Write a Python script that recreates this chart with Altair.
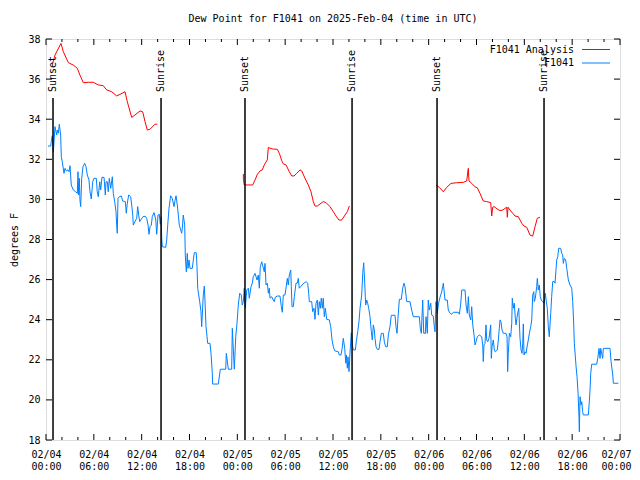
import altair as alt
import pandas as pd

BASE = pd.Timestamp("2025-02-04T00:00:00Z")

# Observations (F1041): hours after 2025-02-04 00:00 UTC, dew point in F
obs_hours = [0.25, 0.59, 0.66, 0.79, 0.92, 1.13, 1.34, 1.42, 1.54, 1.67, 1.84, 1.92, 2.04, 2.26, 2.38, 2.55, 2.76, 2.89, 3.01, 3.17,
             3.42, 3.73, 3.93, 4.01, 4.10, 4.18, 4.26, 4.35, 4.48, 4.64, 4.85, 5.02, 5.18, 5.39, 5.52, 5.68, 5.86, 6.02, 6.31, 6.43,
             6.56, 6.74, 6.86, 7.02, 7.28, 7.44, 7.53, 7.69, 7.81, 7.94, 8.12, 8.32, 8.44, 8.62, 8.78, 8.87, 8.94, 9.03, 9.19, 9.45,
             9.62, 9.95, 10.07, 10.20, 10.37, 10.62, 10.75, 10.88, 10.95, 11.16, 11.38, 11.50, 11.63, 11.75, 11.95, 12.17, 12.46, 12.63, 12.80, 12.92,
             13.05, 13.21, 13.33, 13.55, 13.76, 13.89, 14.05, 14.21, 14.34, 14.46, 14.51, 14.59, 15.02, 15.14, 15.30, 15.43, 15.64, 15.84, 16.06, 16.18,
             16.31, 16.47, 16.60, 16.72, 17.02, 17.10, 17.22, 17.40, 17.47, 17.60, 17.72, 17.81, 17.94, 18.06, 18.35, 18.60, 18.85, 18.94, 19.03, 19.28,
             19.44, 19.53, 19.73, 19.86, 19.94, 20.07, 20.20, 20.28, 20.57, 20.70, 20.86, 20.90, 21.61, 21.87, 22.54, 22.62, 22.87, 23.29, 23.37, 23.50,
             23.62, 23.80, 23.96, 24.12, 24.30, 24.50, 24.62, 24.75, 24.87, 25.00, 25.18, 25.38, 25.50, 25.72, 25.88, 26.00, 26.22, 26.47, 26.63, 26.76,
             26.88, 27.06, 27.38, 27.47, 27.60, 27.76, 27.89, 28.01, 28.10, 28.31, 28.51, 28.64, 28.76, 29.01, 29.35, 29.52, 29.64, 29.77, 29.98, 30.27,
             30.39, 30.52, 30.70, 30.77, 30.86, 31.02, 31.15, 31.36, 31.52, 31.65, 31.77, 31.95, 32.11, 32.36, 32.61, 32.83, 32.95, 33.03, 33.33, 33.45,
             33.62, 33.74, 33.87, 34.03, 34.16, 34.28, 34.41, 34.53, 34.66, 34.78, 34.91, 35.04, 35.21, 35.54, 35.71, 35.88, 36.04, 36.21, 36.67, 36.79,
             37.00, 37.13, 37.29, 37.47, 37.60, 37.67, 37.80, 37.88, 38.01, 38.13, 38.22, 38.30, 38.42, 38.55, 38.80, 38.92, 39.10, 39.26, 39.39, 39.60,
             39.73, 39.85, 39.98, 40.10, 40.23, 40.35, 40.48, 40.64, 40.81, 40.93, 41.06, 41.18, 41.27, 41.40, 41.56, 41.77, 41.90, 42.06, 42.31, 42.44,
             42.61, 42.81, 42.94, 43.15, 43.31, 43.78, 43.90, 44.03, 44.15, 44.32, 44.57, 44.74, 44.91, 45.03, 45.25, 45.66, 45.87, 46.07, 46.83, 46.95,
             47.08, 47.25, 47.38, 47.58, 47.67, 47.83, 47.95, 48.08, 48.26, 48.38, 48.58, 48.71, 48.80, 48.92, 49.08, 49.21, 49.33, 49.51, 49.64, 49.76,
             49.84, 50.05, 50.34, 50.46, 50.68, 50.89, 51.09, 51.72, 51.85, 52.02, 52.15, 52.56, 52.69, 52.85, 52.98, 53.10, 53.28, 53.40, 53.53, 53.69,
             53.82, 53.94, 54.10, 54.35, 54.65, 54.78, 54.85, 54.94, 55.07, 55.19, 55.28, 55.41, 55.57, 55.70, 55.78, 55.86, 55.95, 56.11, 56.24, 56.36,
             56.61, 56.74, 56.86, 56.95, 57.07, 57.20, 57.36, 57.70, 57.83, 57.91, 57.99, 58.12, 58.29, 58.42, 58.49, 58.62, 58.74, 58.87, 58.96, 59.12,
             59.30, 59.46, 59.59, 59.71, 59.80, 59.87, 59.96, 60.09, 60.21, 60.38, 60.50, 60.63, 60.80, 60.93, 61.05, 61.18, 61.25, 61.38, 61.55, 61.63,
             61.75, 61.88, 62.00, 62.13, 62.30, 62.47, 62.63, 62.76, 62.88, 63.01, 63.13, 63.31, 63.43, 63.56, 63.76, 63.85, 63.97, 64.06, 64.19, 64.31,
             64.56, 64.69, 64.81, 64.89, 65.02, 65.19, 65.32, 65.52, 65.73, 65.94, 66.07, 66.20, 66.27, 66.40, 66.49, 66.61, 66.74, 66.86, 66.90, 66.99,
             67.11, 67.20, 67.32, 67.40, 68.03, 68.15, 68.24, 68.33, 68.45, 69.08, 69.21, 69.37, 69.50, 69.58, 69.83, 69.91, 70.75, 70.88, 71.09, 71.17,
             71.79]
obs_values = [32.66, 32.66, 32.88, 33.18, 32.38, 33.63, 33.21, 33.46, 33.30, 33.75, 33.21, 32.13, 31.88, 31.30, 31.55, 31.42, 31.47, 31.38, 31.68, 30.72,
              30.47, 30.38, 30.30, 31.38, 30.22, 31.05, 29.97, 29.64, 31.05, 31.63, 31.80, 31.63, 31.22, 30.97, 30.38, 30.02, 30.88, 31.05, 31.05, 30.38,
              30.13, 30.88, 30.47, 31.10, 31.10, 30.22, 30.88, 30.88, 30.38, 31.05, 30.55, 31.13, 30.30, 29.89, 29.39, 28.72, 28.31, 30.05, 30.13, 30.17,
              29.92, 29.89, 29.31, 29.81, 30.22, 30.13, 29.72, 29.22, 28.72, 28.89, 29.06, 29.64, 29.22, 28.89, 29.02, 29.14, 29.16, 29.06, 28.72, 28.26,
              28.64, 28.72, 29.14, 29.34, 29.02, 28.26, 29.22, 29.26, 28.76, 29.14, 28.06, 27.64, 27.61, 27.98, 28.89, 29.56, 30.18, 30.05, 29.64, 29.94,
              30.18, 29.72, 29.22, 28.72, 28.31, 28.56, 29.22, 28.72, 27.23, 26.39, 27.31, 26.56, 26.98, 26.56, 26.56, 27.34, 27.34, 26.64, 25.57, 24.90,
              24.40, 23.65, 25.23, 25.68, 24.98, 23.65, 23.15, 22.82, 22.82, 22.32, 21.33, 20.79, 20.79, 21.53, 21.53, 22.32, 21.53, 21.53, 23.57, 22.49,
              21.53, 23.15, 23.82, 24.73, 25.32, 25.23, 24.73, 24.90, 25.57, 24.57, 25.48, 25.57, 25.07, 25.65, 25.82, 26.14, 26.31, 25.98, 26.23, 25.57,
              26.64, 26.89, 26.39, 26.81, 25.73, 25.82, 25.32, 25.57, 25.07, 25.15, 24.98, 24.90, 25.12, 25.18, 25.18, 24.65, 24.37, 25.23, 25.23, 26.06,
              25.73, 26.23, 26.48, 25.65, 24.65, 24.65, 25.15, 25.82, 25.82, 26.06, 25.57, 25.65, 25.73, 25.82, 25.90, 25.82, 25.32, 24.90, 24.90, 24.40,
              24.57, 24.02, 24.82, 24.98, 24.23, 24.90, 24.57, 25.07, 24.57, 25.07, 24.15, 24.57, 24.02, 23.99, 23.65, 22.99, 22.65, 22.45, 22.40, 22.24,
              22.24, 22.52, 23.07, 22.57, 21.83, 22.24, 21.58, 22.15, 21.41, 22.32, 22.90, 23.35, 22.74, 22.49, 22.49, 22.90, 23.40, 23.90, 24.57, 25.23,
              26.31, 26.84, 25.82, 24.73, 24.98, 24.82, 24.57, 24.15, 23.40, 22.99, 23.74, 23.49, 23.07, 22.65, 22.52, 22.52, 22.90, 23.32, 23.32, 22.90,
              22.65, 22.65, 23.24, 23.65, 24.22, 24.22, 23.65, 23.32, 24.07, 25.02, 25.02, 25.57, 25.82, 25.65, 24.90, 24.90, 24.48, 24.15, 24.15, 23.57,
              23.32, 24.98, 23.32, 23.32, 24.15, 23.32, 24.98, 24.48, 24.82, 24.23, 24.18, 23.65, 23.40, 24.90, 24.32, 24.73, 24.98, 25.23, 25.40, 25.65,
              25.82, 24.98, 24.98, 24.48, 24.32, 24.27, 24.37, 24.37, 24.27, 24.78, 25.48, 25.48, 24.73, 24.32, 25.15, 24.23, 23.99, 24.65, 23.74, 23.24,
              22.74, 22.90, 23.15, 23.24, 23.15, 22.74, 21.91, 22.74, 22.82, 23.74, 22.99, 22.90, 23.07, 23.49, 23.74, 22.07, 22.65, 22.99, 22.49, 22.40,
              22.49, 22.99, 23.57, 23.99, 23.90, 23.49, 23.32, 23.32, 23.15, 21.41, 22.32, 23.32, 23.15, 23.82, 25.07, 24.57, 24.82, 24.07, 23.74, 24.23,
              24.57, 23.07, 22.49, 22.32, 22.82, 23.79, 22.24, 22.40, 22.32, 22.74, 22.99, 23.32, 23.65, 23.99, 25.23, 25.40, 24.90, 25.07, 25.65, 26.06,
              25.48, 25.73, 25.15, 24.98, 24.90, 24.82, 25.32, 24.90, 24.57, 23.65, 23.15, 24.32, 25.15, 25.90, 25.90, 25.82, 26.48, 26.98, 27.14, 27.56,
              27.56, 27.31, 27.23, 26.81, 27.06, 26.98, 26.56, 25.98, 25.73, 25.57, 24.90, 23.74, 22.82, 22.15, 21.66, 21.16, 20.33, 19.08, 18.41, 20.16,
              19.75, 19.91, 19.41, 19.25, 19.25, 19.91, 20.49, 21.33, 21.78, 21.78, 22.07, 22.57, 22.07, 22.57, 22.07, 22.57, 22.57, 21.91, 21.24, 20.83,
              20.83]

# Analysis (F1041 Analysis): three separate runs
ana1_hours = [0.84, 1.13, 1.88, 2.17, 2.80, 3.42, 3.93, 4.26, 4.68, 5.31, 5.93, 6.56, 7.19, 7.61, 8.24, 8.87, 9.28, 9.91, 10.20, 10.75,
              11.16, 11.79, 12.13, 12.42, 12.71, 13.05, 13.67, 13.96]
ana1_values = [36.79, 37.20, 37.78, 37.37, 36.82, 36.70, 36.54, 36.20, 35.82, 35.84, 35.84, 35.71, 35.67, 35.46, 35.37, 35.16, 35.24, 35.37, 34.87, 34.09,
               34.21, 34.41, 34.37, 33.88, 33.46, 33.50, 33.75, 33.75]
ana2_hours = [24.75, 24.76, 24.87, 25.93, 26.22, 26.51, 26.84, 27.13, 27.38, 27.76, 27.89, 28.10, 28.51, 29.01, 29.27, 29.57, 29.77, 30.11, 30.52, 30.82,
              31.11, 31.45, 31.86, 32.08, 32.49, 32.90, 33.24, 33.53, 33.74, 34.03, 34.37, 34.78, 35.12, 35.62, 36.04, 36.38, 36.75, 37.09, 37.51, 37.80,
              38.05]
ana2_values = [31.27, 31.00, 30.72, 30.72, 30.97, 31.25, 31.42, 31.47, 31.72, 31.97, 32.60, 32.55, 32.51, 32.50, 32.30, 31.93, 31.77, 31.72, 31.38, 31.17,
               31.17, 31.30, 31.47, 31.42, 31.05, 30.72, 30.38, 29.89, 29.67, 29.67, 29.77, 29.89, 29.84, 29.64, 29.39, 29.17, 28.97, 28.97, 29.22, 29.39,
               29.67]
ana3_hours = [48.92, 49.33, 49.84, 50.26, 50.80, 51.52, 52.35, 52.77, 52.97, 53.06, 53.40, 53.81, 54.10, 54.44, 54.85, 55.28, 55.78, 55.91, 56.03, 56.20,
              56.61, 56.95, 57.29, 57.79, 57.87, 57.95, 58.20, 58.54, 58.83, 59.25, 59.67, 59.96, 60.30, 60.71, 61.05, 61.34, 61.63, 61.97]
ana3_values = [30.72, 30.60, 30.38, 30.60, 30.80, 30.83, 30.85, 30.92, 31.55, 30.92, 30.80, 30.63, 30.58, 30.30, 29.92, 29.89, 29.84, 29.17, 29.61, 29.64,
               29.52, 29.44, 29.47, 29.61, 29.11, 29.61, 29.47, 29.31, 29.17, 29.14, 28.81, 28.67, 28.61, 28.22, 28.17, 28.64, 29.06, 29.11]

sun_hours = [0.88, 14.43, 24.96, 38.39, 49.05, 62.47]
sun_labels = ["Sunset", "Sunrise", "Sunset", "Sunrise", "Sunset", "Sunrise"]

y_ticks = list(range(18, 39, 2))
x_major_hours = list(range(0, 73, 6))
x_minor_hours = [h for h in range(0, 73, 2) if h % 6]

TITLE = "Dew Point for F1041 on 2025-Feb-04 (time in UTC)"
FONT = "DejaVu Sans Mono"
RED = "#ff0000"
BLUE = "#0080ff"
W, H = 574, 401


def stamps(hours):
    return [(BASE + pd.Timedelta(hours=h)).strftime("%Y-%m-%dT%H:%M:%SZ") for h in hours]


def ms(h):
    return int((BASE + pd.Timedelta(hours=h)).timestamp() * 1000)


xscale = alt.Scale(type="utc", domain=[ms(0), ms(72)], nice=False)
yscale = alt.Scale(domain=[18, 38], nice=False, zero=False)

obs_df = pd.DataFrame({"t": stamps(obs_hours), "v": obs_values})
ana_df = pd.DataFrame({
    "t": stamps(ana1_hours) + stamps(ana2_hours) + stamps(ana3_hours),
    "v": ana1_values + ana2_values + ana3_values,
    "seg": [1] * len(ana1_hours) + [2] * len(ana2_hours) + [3] * len(ana3_hours),
})
sun_df = pd.DataFrame({"t": stamps(sun_hours), "label": sun_labels})
major_df = pd.DataFrame({"t": stamps(x_major_hours)})
minor_df = pd.DataFrame({"t": stamps(x_minor_hours)})
yt_df = pd.DataFrame({"v": y_ticks})

x_axis = alt.Axis(
    values=[ms(h) for h in x_major_hours],
    labelExpr="[utcFormat(datum.value, '%m/%d'), utcFormat(datum.value, '%H:%M')]",
    ticks=False, domain=False, grid=False, title=None,
    labelFont=FONT, labelFontSize=10, labelColor="black",
    labelPadding=9, labelLineHeight=12, labelOverlap=False, labelFlush=False,
    labelOffset={"condition": {"test": f"datum.value >= {ms(72)}", "value": -4}, "value": 0},
)
y_axis = alt.Axis(
    values=y_ticks, ticks=False, domain=False, grid=False,
    labelFont=FONT, labelFontSize=10, labelColor="black", labelPadding=6,
    title="degrees F", titleFont=FONT, titleFontSize=10, titleFontWeight="normal",
    titleColor="black", titlePadding=8,
)


def X():
    return alt.X("t:T", scale=xscale, axis=x_axis)


def Y():
    return alt.Y("v:Q", scale=yscale, axis=y_axis, title="degrees F")


obs = alt.Chart(obs_df).mark_line(color=BLUE, strokeWidth=1, clip=True).encode(x=X(), y=Y())
ana = alt.Chart(ana_df).mark_line(color=RED, strokeWidth=1, clip=True).encode(
    x=X(), y=Y(), detail="seg:N")
sun_rule = alt.Chart(sun_df).mark_rule(color="black", strokeWidth=1.5).encode(
    x=X(), y=alt.value(59), y2=alt.value(H))
sun_text = alt.Chart(sun_df).mark_text(
    angle=270, align="left", baseline="middle", font=FONT, fontSize=10, color="black"
).encode(x=X(), y=alt.value(53), text="label:N")


def xticks(df, length):
    base = alt.Chart(df).mark_rule(color="black", strokeWidth=1)
    return (base.encode(x=X(), y=alt.value(H), y2=alt.value(H - length))
            + base.encode(x=X(), y=alt.value(0), y2=alt.value(length)))


ybase = alt.Chart(yt_df).mark_rule(color="black", strokeWidth=1)
yticks = (ybase.encode(y=Y(), x=alt.value(0), x2=alt.value(6))
          + ybase.encode(y=Y(), x=alt.value(W - 6), x2=alt.value(W)))

leg_items = []
for i, (name, col) in enumerate([("F1041 Analysis", RED), ("F1041", BLUE)]):
    d = pd.DataFrame({"name": [name]})
    yy = 10.5 + i * 13.5
    leg_items.append(alt.Chart(d).mark_text(
        align="right", baseline="middle", font=FONT, fontSize=10, color="black"
    ).encode(x=alt.value(528), y=alt.value(yy), text="name:N"))
    leg_items.append(alt.Chart(d).mark_rule(color=col, strokeWidth=1).encode(
        x=alt.value(536), x2=alt.value(564), y=alt.value(yy)))

chart = alt.layer(
    obs, ana, sun_rule, sun_text,
    xticks(major_df, 6), xticks(minor_df, 3), yticks, *leg_items,
).properties(
    width=W, height=H,
    autosize=alt.AutoSizeParams(type="none"),
    padding={"left": 38, "top": 31, "right": 12, "bottom": 32},
    title=alt.TitleParams(TITLE, font=FONT, fontSize=10, fontWeight="normal",
                          color="black", anchor="middle", offset=10),
).configure_view(stroke="black", strokeWidth=1).configure(background="white")

chart.save("out.html", embed_options={"renderer": "svg", "actions": False})
